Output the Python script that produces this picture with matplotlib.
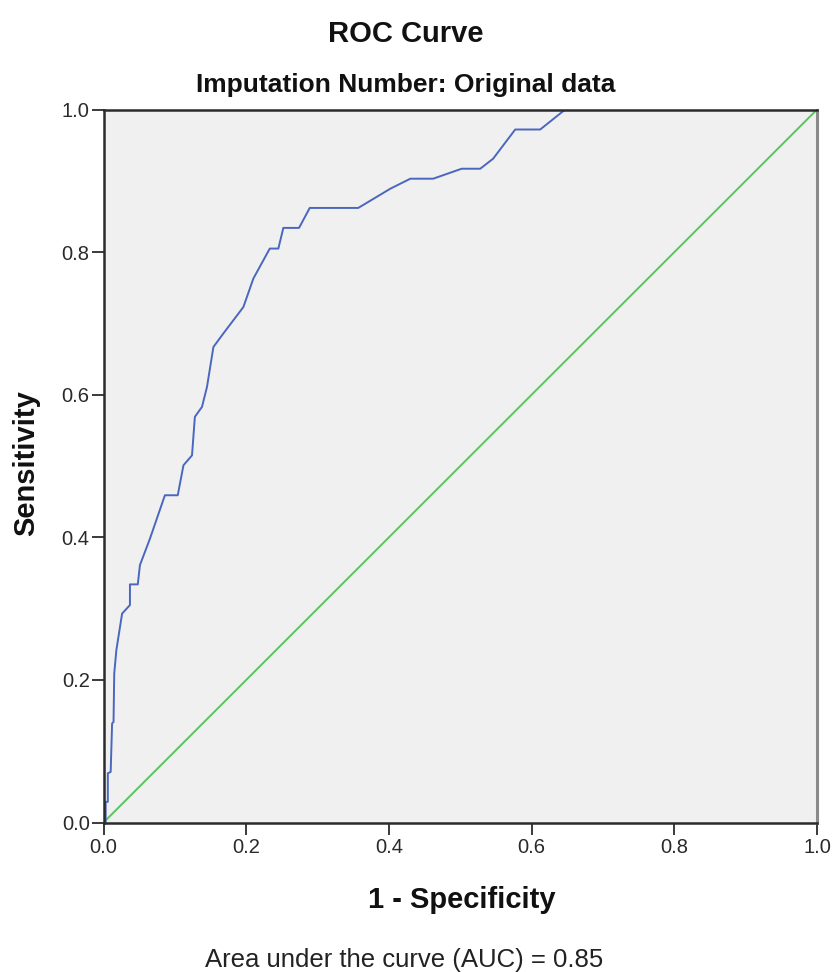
import matplotlib
matplotlib.use("Agg")
import matplotlib.pyplot as plt

plt.rcParams['font.family'] = ['Liberation Sans', 'DejaVu Sans']

# ROC curve coordinates (1 - specificity, sensitivity)
fpr = [0.0, 0.003, 0.003, 0.006, 0.006, 0.010, 0.012, 0.014, 0.015, 0.018,
       0.026, 0.037, 0.037, 0.048, 0.051, 0.065, 0.086, 0.104, 0.112, 0.124,
       0.128, 0.138, 0.145, 0.154, 0.168, 0.196, 0.210, 0.233, 0.245, 0.252,
       0.274, 0.289, 0.357, 0.402, 0.430, 0.462, 0.502, 0.528, 0.546, 0.577,
       0.612, 0.647, 1.0]
tpr = [0.0, 0.0, 0.029, 0.029, 0.069, 0.071, 0.139, 0.141, 0.209, 0.242,
       0.293, 0.305, 0.334, 0.334, 0.361, 0.398, 0.459, 0.459, 0.501, 0.515,
       0.569, 0.583, 0.611, 0.667, 0.686, 0.723, 0.763, 0.805, 0.805, 0.834,
       0.834, 0.862, 0.862, 0.889, 0.903, 0.903, 0.917, 0.917, 0.931, 0.972,
       0.972, 1.0, 1.0]

# chance (reference) line
ref_x = [0.0, 1.0]
ref_y = [0.0, 1.0]

ticks = [0.0, 0.2, 0.4, 0.6, 0.8, 1.0]
tick_labels = ["0.0", "0.2", "0.4", "0.6", "0.8", "1.0"]
auc = 0.85

fig = plt.figure(figsize=(8.33, 9.72), dpi=100)
fig.patch.set_facecolor("white")
ax = fig.add_axes([0.1243, 0.1538, 0.8565, 0.7335])
ax.set_facecolor("#f0f0f0")

# lines sit below the frame so the curve's flat top run is covered by the border
ax.plot(ref_x, ref_y, color="#5bc45e", lw=1.4, zorder=2)
ax.plot(fpr, tpr, color="#4a67bf", lw=1.4, zorder=2.1)

ax.set_xlim(0, 1)
ax.set_ylim(0, 1)
ax.set_xticks(ticks)
ax.set_xticklabels(tick_labels)
ax.set_yticks(ticks)
ax.set_yticklabels(tick_labels)
ax.tick_params(axis="both", direction="out", length=8.5, width=1.3,
               color="#2b2b2b", labelsize=14.5, labelcolor="#2a2a2a")
ax.tick_params(axis="x", pad=3)
ax.tick_params(axis="y", pad=1.5)
ax.tick_params(top=False, right=False)

for side in ("left", "bottom", "top"):
    ax.spines[side].set_color("#2b2b2b")
    ax.spines[side].set_linewidth(1.8)
    ax.spines[side].set_zorder(3)
ax.spines["right"].set_color("#8a8a8a")
ax.spines["right"].set_linewidth(2.2)
ax.spines["right"].set_zorder(3)

fig.text(406 / 833, 1 - 41.7 / 972, "ROC Curve", ha="center", va="baseline",
         fontsize=21, fontweight="bold", color="#111111")
fig.text(406 / 833, 1 - 91.7 / 972, "Imputation Number: Original data",
         ha="center", va="baseline", fontsize=19, fontweight="bold",
         color="#111111")
fig.text(461.5 / 833, 1 - 908 / 972, "1 - Specificity", ha="center",
         va="baseline", fontsize=21, fontweight="bold", color="#111111")
fig.text(26 / 833, 1 - 463 / 972, "Sensitivity", ha="center", va="center",
         rotation=90, fontsize=21, fontweight="bold", color="#111111")
fig.text(404 / 833, 1 - 967 / 972, f"Area under the curve (AUC) = {auc:.2f}",
         ha="center", va="baseline", fontsize=18.5, color="#222222")

fig.savefig("out.png", dpi=100, facecolor="white")
